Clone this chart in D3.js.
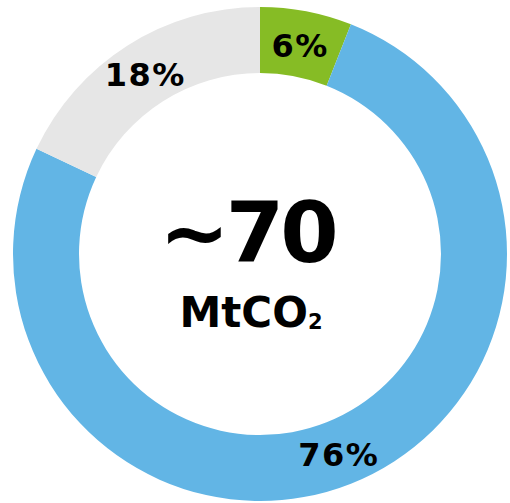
<!DOCTYPE html>
<html>
<head>
<meta charset="utf-8">
<script src="https://cdn.jsdelivr.net/npm/d3@7"></script>
<style>
  html, body { margin: 0; padding: 0; background: #fff; }
  svg { display: block; }
  text { font-family: "DejaVu Sans", Verdana, sans-serif; font-weight: bold; fill: #000; }
</style>
</head>
<body>
<svg id="chart" width="510" height="503"></svg>
<script>
// slices clockwise from 12 o'clock
const categories = ["green", "blue", "gray"];
const shares = [6, 76, 18];
const sliceColors = ["#86bc25", "#62b5e5", "#e6e6e6"];
const totalLabel = "~70";
const unitLabel = "MtCO";
const unitSub = "2";

const width = 510, height = 503;
const cx = 260, cy = 254;
const outerR = 247, innerR = 181;

const svg = d3.select("#chart");
const g = svg.append("g").attr("transform", `translate(${cx},${cy})`);

const data = categories.map((c, i) => ({ name: c, value: shares[i], color: sliceColors[i] }));

const pie = d3.pie().value((d) => d.value).sort(null);
const arc = d3.arc().innerRadius(innerR).outerRadius(outerR);
const labelArc = d3.arc().innerRadius((innerR + outerR) / 2).outerRadius((innerR + outerR) / 2);

const arcs = pie(data);

g.selectAll(".slice")
  .data(arcs)
  .join("path")
  .attr("class", "slice")
  .attr("d", arc)
  .attr("fill", (d) => d.data.color);

g.selectAll(".pct")
  .data(arcs)
  .join("text")
  .attr("class", "pct")
  .attr("transform", (d) => `translate(${labelArc.centroid(d)})`)
  .attr("text-anchor", "middle")
  .attr("dy", "0.4em")
  .style("font-size", "32px")
  .style("letter-spacing", "1.5px")
  .text((d) => `${d.data.value}%`);

// centre total
g.append("text")
  .attr("x", -13)
  .attr("y", 8)
  .attr("text-anchor", "middle")
  .style("font-size", "84px")
  .style("letter-spacing", "-4px")
  .text(totalLabel);

const unit = g.append("text")
  .attr("x", -9)
  .attr("y", 73)
  .attr("text-anchor", "middle")
  .style("font-size", "42px");
unit.append("tspan").text(unitLabel);
unit.append("tspan").style("font-size", "21px").attr("dy", 2).text(unitSub);
</script>
</body>
</html>
